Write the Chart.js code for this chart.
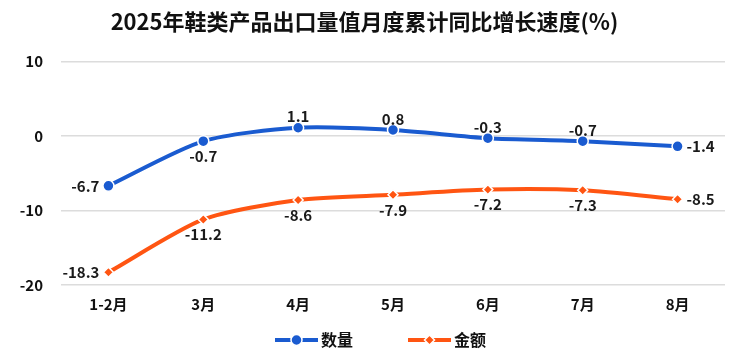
<!DOCTYPE html>
<html><head><meta charset="utf-8">
<script src="https://cdn.jsdelivr.net/npm/chart.js@4"></script>
<style>html,body{margin:0;padding:0;background:#fff}#wrap{width:750px;height:356px}</style>
</head><body><div id="wrap"><canvas id="c"></canvas></div>
<script>
const categories = ['1-2月','3月','4月','5月','6月','7月','8月'];
const quantity = [-6.7,-0.7,1.1,0.8,-0.3,-0.7,-1.4];
const value = [-18.3,-11.2,-8.6,-7.9,-7.2,-7.3,-8.5];
const quantityPos = ['left','below','above','above','above','above','right'];
const valuePos = ['left','below','below','below','below','below','right'];
const seriesNames = ['数量','金额'];
const BLUE = '#1a5bd0', ORANGE = '#ff5512';
const FONT = "'Noto Sans CJK SC','Noto Sans',sans-serif";

function drawMarker(ctx, style, x, y, color, r){
  ctx.fillStyle=color; ctx.strokeStyle='#fff'; ctx.lineWidth=1.5;
  ctx.beginPath();
  if(style==='circle'){ ctx.arc(x,y,r,0,Math.PI*2);} else { ctx.moveTo(x,y-r);ctx.lineTo(x+r,y);ctx.lineTo(x,y+r);ctx.lineTo(x-r,y);ctx.closePath(); }
  ctx.fill(); ctx.stroke();
}

const labelPlugin = {
  id:'pointLabels',
  afterDatasetsDraw(chart){
    const ctx = chart.ctx;
    const posSets = [quantityPos, valuePos];
    ctx.save();
    ctx.font = "bold 15px " + FONT;
    ctx.fillStyle = '#1a1a1a';
    chart.data.datasets.forEach((ds, di)=>{
      const meta = chart.getDatasetMeta(di);
      meta.data.forEach((pt, i)=>{
        const p = posSets[di][i];
        const txt = ds.data[i].toFixed(1);
        let x = pt.x, y = pt.y;
        ctx.textBaseline='middle';
        if(p==='above'){ctx.textAlign='center';y-=11;}
        else if(p==='below'){ctx.textAlign='center';y+=15;}
        else if(p==='left'){ctx.textAlign='right';x-=9;}
        else {ctx.textAlign='left';x+=9;}
        ctx.fillText(txt, x, y);
      });
    });
    ctx.restore();
  }
};

const legendPlugin = {
  id:'customLegend',
  afterDraw(chart){
    const ctx = chart.ctx;
    const y = 340;
    const items = [{x:275, style:'circle', r:5.5}, {x:408, style:'diamond', r:5}];
    ctx.save();
    chart.data.datasets.forEach((ds,i)=>{
      const it = items[i];
      ctx.strokeStyle = ds.borderColor; ctx.lineWidth = 4;
      ctx.beginPath(); ctx.moveTo(it.x, y); ctx.lineTo(it.x+43, y); ctx.stroke();
      drawMarker(ctx, it.style, it.x+21.5, y, ds.borderColor, it.r);
      ctx.font = "bold 16px " + FONT; ctx.fillStyle='#111'; ctx.textAlign='left'; ctx.textBaseline='middle';
      ctx.fillText(ds.label, it.x+46, y);
    });
    ctx.restore();
  }
};

new Chart(document.getElementById('c'), {
  type:'line',
  data:{
    labels: categories,
    datasets:[
      {label:seriesNames[0], data:quantity, borderColor:BLUE, backgroundColor:BLUE, borderWidth:4,
       pointStyle:'circle', pointRadius:5.5, pointBorderColor:'#fff', pointBorderWidth:1.5, pointBackgroundColor:BLUE, tension:0.25},
      {label:seriesNames[1], data:value, borderColor:ORANGE, backgroundColor:ORANGE, borderWidth:4,
       pointStyle:'rectRot', pointRadius:5, pointBorderColor:'#fff', pointBorderWidth:1.5, pointBackgroundColor:ORANGE, tension:0.25}
    ]
  },
  options:{
    responsive:true, maintainAspectRatio:false, animation:false,
    layout:{padding:{left:4,right:25,top:6,bottom:41}},
    plugins:{
      title:{display:true, text:'2025年鞋类产品出口量值月度累计同比增长速度(%)', color:'#111',
        font:{family:FONT, size:22, weight:'bold'}, padding:{top:2,bottom:27}},
      legend:{display:false},
      tooltip:{enabled:false}
    },
    scales:{
      x:{offset:true, grid:{display:false}, border:{display:false},
        ticks:{color:'#111', font:{family:FONT, size:15, weight:'bold'}, padding:2}},
      y:{min:-20, max:10, ticks:{stepSize:10, color:'#111', font:{family:FONT, size:15, weight:'bold'}, padding:18},
        grid:{color:'#dcdcdc', lineWidth:1.5, drawTicks:false}, border:{display:false},
        afterFit(s){ s.width = 57; }}
    }
  },
  plugins:[labelPlugin, legendPlugin]
});
</script></body></html>
